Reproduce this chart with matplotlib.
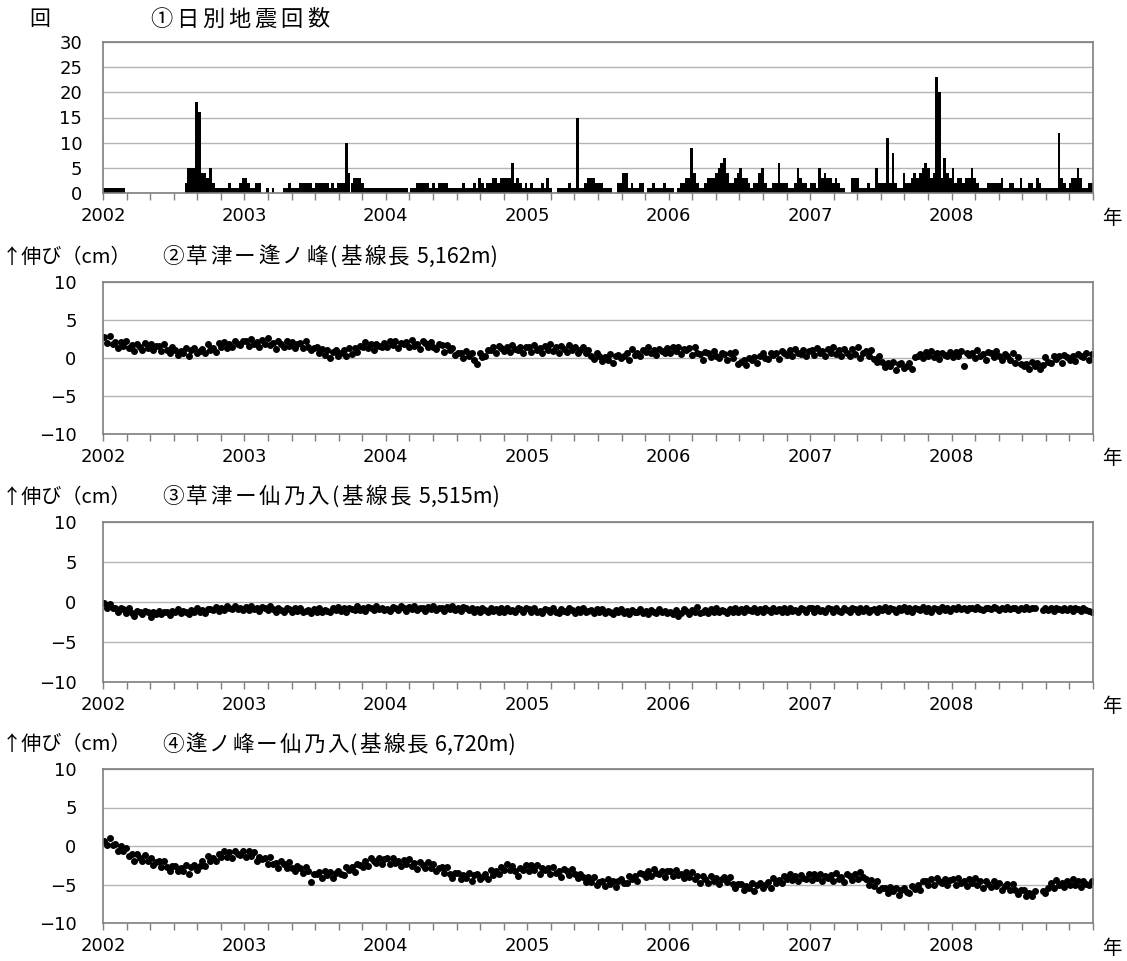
import numpy as np
import matplotlib
matplotlib.use("Agg")
import matplotlib.pyplot as plt

plt.rcParams['font.family'] = ['DejaVu Sans']
JP = ['Noto Sans CJK JP', 'DejaVu Sans']

years = [2002, 2003, 2004, 2005, 2006, 2007, 2008]
year_labels = ['2002', '2003', '2004', '2005', '2006', '2007', '2008']
count_ticks = [0, 5, 10, 15, 20, 25, 30]
len_ticks = [-10, -5, 0, 5, 10]
len_tick_labels = ['−10', '−5', '0', '5', '10']

# ① weekly (max) daily earthquake counts, 52 bins per year
quake_counts = [
    1,1,1,1,1,1,1,1,0,0, 0,0,0,0,0,0,0,0,0,0, 0,0,0,0,0,0,0,0,0,0, 2,5,5,5,18,16,4,4,3,5, 2,1,1,1,1,1,2,1,1,1, 2,3,  # 2002
    3,2,1,1,2,2,0,0,1,0, 1,0,0,0,1,1,2,1,1,1, 2,2,2,2,2,1,2,2,2,2, 2,1,2,1,2,2,2,10,4,2, 3,3,3,2,1,1,1,1,1,1, 1,1,  # 2003
    1,1,1,1,1,1,1,1,0,1, 1,2,2,2,2,2,1,2,1,2, 2,2,2,1,1,1,1,1,2,1, 1,1,2,1,3,2,1,2,2,3, 3,2,3,3,3,3,6,2,3,2, 1,2,  # 2004
    1,2,1,1,1,2,1,3,1,0, 0,1,1,1,1,2,1,1,15,1, 1,2,3,3,3,2,2,2,1,1, 1,0,0,2,2,4,4,1,2,1, 1,2,2,0,1,1,2,1,1,1, 2,1,  # 2005
    1,1,0,1,2,2,3,3,9,4, 2,1,1,2,3,3,3,4,5,6, 7,4,2,2,3,4,5,3,3,2, 1,2,2,4,5,2,1,1,2,2, 6,2,2,2,1,1,2,5,3,2, 2,1,  # 2006
    2,2,1,5,3,4,3,3,2,3, 2,1,1,0,0,3,3,3,1,1, 1,2,1,1,5,2,2,2,11,2, 8,2,1,1,4,2,2,3,4,3, 4,5,6,5,3,4,23,20,3,7, 4,3,  # 2007
    5,2,3,3,2,3,3,5,3,2, 1,1,1,2,2,2,2,2,3,1, 1,2,2,1,1,3,1,1,2,2, 1,3,2,1,1,1,1,1,1,12, 3,2,1,2,3,3,5,3,1,1, 2,2,  # 2008
]

# ② 草津－逢ノ峰 baseline change (cm), weekly readings
kusatsu_ainomine = [
    2.7,2.0,2.9,1.8,2.1,1.3,2.1,1.6,2.3,1.3, 1.7,0.9,1.9,1.5,1.1,2.0,1.3,1.8,1.0,1.6, 1.6,0.9,1.8,1.1,0.7,1.4,1.1,0.4,0.9,0.6, 1.3,0.2,1.1,1.3,0.6,0.9,1.2,0.7,1.8,1.0, 1.3,0.8,2.0,1.5,2.1,1.3,1.8,1.4,2.2,1.9, 1.7,2.3,
    2.3,1.6,2.5,1.8,2.1,1.5,2.4,1.9,2.6,1.7, 2.0,1.2,2.2,1.8,1.4,2.3,1.6,2.1,1.3,1.9, 2.0,1.3,2.2,1.5,1.1,1.3,1.4,0.7,1.2,0.4, 1.1,0.0,0.8,1.0,0.3,0.6,1.0,0.2,1.3,0.5, 1.3,0.8,1.6,1.5,2.1,1.3,1.8,1.1,1.9,1.6, 1.4,2.0,
    1.5,2.2,1.7,2.3,1.3,2.0,1.8,2.1,1.4,2.4, 1.6,1.9,1.2,2.2,2.0,1.5,2.1,1.5,1.2,1.9, 1.7,0.8,1.7,1.1,1.3,0.4,0.7,0.6,0.0,0.9, 0.3,0.6,-0.2,-0.8,0.7,0.1,0.3,1.1,1.1,1.4, 0.6,1.6,1.3,0.9,1.5,0.8,1.7,1.2,1.0,1.5, 0.7,1.4,
    1.5,0.8,1.7,1.0,1.3,0.7,1.6,1.1,1.8,0.9, 1.4,0.6,1.6,1.2,0.8,1.7,1.0,1.5,0.7,1.1, 1.4,0.7,1.0,0.3,-0.1,0.6,0.3,-0.4,0.1,-0.2, 0.5,-0.6,0.2,0.4,0.0,0.3,0.6,-0.2,1.2,0.4, 0.7,0.2,1.0,0.8,1.4,0.6,1.1,0.4,1.2,0.9, 0.7,1.3,
    0.7,1.4,0.9,1.5,0.5,1.2,1.0,1.3,0.4,1.4, 0.6,0.5,-0.2,0.8,0.6,0.1,0.9,0.3,0.0,0.7, 0.5,-0.3,0.6,0.0,0.8,-0.8,-0.5,-0.3,-0.9,0.0, -0.3,0.1,-0.7,0.3,0.6,0.0,-0.1,0.7,0.4,0.7, -0.1,0.9,0.6,0.4,1.0,0.3,1.2,0.7,0.5,1.0, 0.2,0.9,
    1.1,0.4,1.3,0.6,0.9,0.3,1.2,0.7,1.4,0.5, 1.0,0.2,1.2,0.7,0.3,1.2,0.5,1.4,0.0,0.6, 0.9,0.2,1.1,-0.1,-0.5,0.2,-0.5,-1.2,-0.7,-1.0, -0.5,-1.6,-0.8,-0.6,-1.3,-1.0,-0.7,-1.5,0.1,0.2, 0.5,0.0,0.8,0.3,0.9,0.1,0.6,-0.1,0.7,0.4, 0.2,0.8,
    0.1,0.8,0.3,0.9,-1.0,0.6,0.4,0.7,0.0,1.0, 0.2,0.5,-0.2,0.8,0.6,0.1,0.9,0.3,-0.2,0.5, 0.3,-0.3,0.6,-0.7,0.1,-0.8,-1.0,-0.8,-1.4,-0.5, -1.1,-0.7,-1.5,-0.9,0.1,-0.5,-0.6,0.2,-0.1,0.2, -0.6,0.4,0.1,-0.3,0.3,-0.4,0.5,0.3,0.1,0.6, -0.2,0.5,
]

# ③ 草津－仙乃入 baseline change (cm), weekly readings (nan = no data)
kusatsu_sennoiri = [
    -0.1,-0.7,-0.3,-0.8,-0.8,-1.2,-0.8,-0.9,-1.4,-0.7, -1.4,-1.8,-1.1,-1.3,-1.5,-1.1,-1.3,-1.9,-1.2,-1.5, -1.1,-1.5,-1.3,-1.2,-1.6,-1.1,-1.3,-0.9,-1.4,-1.1, -1.2,-1.5,-1.0,-1.2,-0.8,-1.3,-1.0,-1.4,-0.9,-0.9, -1.0,-0.6,-1.1,-0.8,-1.0,-0.5,-0.7,-0.9,-0.5,-0.9, -0.7,-1.0,
    -0.6,-1.0,-0.5,-0.9,-0.8,-1.1,-0.6,-0.7,-1.0,-0.5, -0.9,-1.3,-0.8,-1.0,-1.2,-0.7,-0.9,-1.3,-0.8,-1.1, -0.7,-1.3,-1.1,-1.0,-1.4,-0.9,-1.2,-0.8,-1.3,-1.0, -1.1,-1.2,-0.7,-1.0,-0.6,-1.1,-0.8,-1.2,-0.7,-0.9, -1.0,-0.5,-1.0,-0.7,-1.1,-0.6,-0.8,-1.0,-0.5,-0.9, -0.7,-1.0,
    -0.9,-1.1,-0.6,-0.8,-1.0,-0.5,-0.7,-1.1,-0.6,-0.9, -0.5,-1.0,-0.8,-0.7,-1.1,-0.6,-0.9,-0.5,-1.0,-0.7, -0.8,-1.1,-0.6,-0.9,-0.5,-1.0,-0.7,-1.1,-0.6,-0.8, -1.0,-0.7,-1.2,-0.9,-1.3,-0.8,-1.0,-1.2,-0.7,-1.1, -0.9,-1.2,-0.8,-1.2,-0.7,-1.1,-1.0,-1.3,-0.8,-0.9, -1.2,-0.7,
    -0.9,-1.3,-0.8,-1.2,-1.1,-1.4,-0.9,-1.0,-1.3,-0.8, -1.2,-1.4,-0.9,-1.1,-1.3,-0.8,-1.0,-1.4,-0.9,-1.2, -0.8,-1.3,-1.1,-1.0,-1.4,-0.9,-1.3,-0.9,-1.4,-1.1, -1.2,-1.5,-1.0,-1.3,-0.9,-1.4,-1.1,-1.5,-1.0,-1.2, -1.3,-0.9,-1.4,-1.1,-1.5,-1.0,-1.2,-1.4,-0.9,-1.3, -1.1,-1.4,
    -1.3,-1.5,-1.0,-1.8,-1.4,-0.9,-1.1,-1.5,-1.0,-1.3, -0.6,-1.4,-1.2,-1.0,-1.4,-0.9,-1.2,-0.8,-1.3,-1.0, -1.1,-1.4,-0.9,-1.2,-0.8,-1.3,-0.9,-1.3,-0.8,-1.0, -1.1,-0.7,-1.2,-0.9,-1.3,-0.8,-1.0,-1.2,-0.7,-1.1, -0.9,-1.2,-0.8,-1.2,-0.7,-1.1,-1.0,-1.3,-0.8,-0.9, -1.2,-0.7,
    -0.8,-1.2,-0.7,-1.1,-1.0,-1.3,-0.8,-0.9,-1.2,-0.7, -1.1,-1.3,-0.8,-1.0,-1.2,-0.7,-0.9,-1.3,-0.8,-1.1, -0.7,-1.2,-1.0,-0.9,-1.3,-0.8,-1.0,-0.6,-1.1,-0.8, -0.9,-1.2,-0.7,-1.0,-0.6,-1.1,-0.8,-1.2,-0.7,-0.9, -1.0,-0.6,-1.1,-0.8,-1.2,-0.7,-0.9,-1.1,-0.6,-1.0, -0.8,-1.1,
    -0.7,-0.9,-0.6,-0.9,-0.8,-1.0,-0.7,-0.7,-0.9,-0.6, -0.9,-1.0,-0.7,-0.8,-0.9,-0.6,-0.7,-1.0,-0.7,-0.9, -0.6,-0.9,-0.8,-0.7,-1.0,-0.7,-0.9,-0.6,-0.9,-0.7, -0.8,np.nan,np.nan,-1.0,-0.7,-1.0,-0.8,-1.1,-0.8,-0.9, -1.0,-0.7,-1.0,-0.8,-1.1,-0.8,-0.9,-1.1,-0.8,-1.0, -1.1,-1.3,
]

# ④ 逢ノ峰－仙乃入 baseline change (cm), weekly readings (nan = no data)
ainomine_sennoiri = [
    0.7,0.1,1.0,0.1,0.2,-0.7,0.0,-0.7,-0.2,-1.3, -1.0,-1.9,-1.0,-1.5,-2.0,-1.2,-2.0,-1.6,-2.5,-2.1, -1.9,-2.7,-1.9,-2.7,-3.2,-2.6,-2.6,-3.3,-2.9,-3.2, -2.5,-3.6,-2.7,-2.5,-3.1,-2.6,-2.0,-2.6,-1.3,-2.0, -1.6,-2.0,-1.1,-1.4,-0.7,-1.4,-0.8,-1.5,-0.7,-1.0, -1.2,-0.7,
    -1.4,-0.7,-1.3,-0.8,-2.0,-1.4,-1.7,-1.5,-2.3,-1.4, -2.4,-2.2,-2.9,-2.0,-2.3,-2.8,-2.1,-2.8,-3.2,-2.6, -2.8,-3.5,-2.7,-3.3,-4.7,-3.7,-3.6,-3.4,-4.1,-3.2, -3.8,-3.4,-4.2,-3.5,-3.2,-3.7,-3.8,-2.7,-3.1,-2.7, -3.4,-2.3,-2.5,-2.7,-2.0,-2.6,-1.6,-2.0,-2.2,-1.6, -2.4,-1.7,
    -1.6,-2.3,-1.5,-2.2,-2.0,-2.6,-1.8,-2.3,-1.7,-2.6, -2.2,-3.0,-2.1,-2.5,-2.9,-2.1,-2.8,-2.4,-3.3,-2.9, -2.7,-3.5,-2.7,-3.6,-4.1,-3.5,-3.5,-4.3,-3.8,-4.2, -3.5,-4.6,-3.8,-3.6,-4.3,-4.0,-3.7,-4.3,-3.1,-3.8, -3.3,-3.6,-2.7,-3.1,-2.4,-3.1,-2.6,-3.3,-3.9,-2.9, -3.1,-2.5,
    -3.2,-2.5,-3.1,-2.5,-3.6,-2.9,-3.1,-2.9,-3.6,-2.7, -3.5,-3.2,-4.0,-3.0,-3.2,-3.8,-3.0,-3.7,-4.2,-3.6, -4.0,-4.7,-4.0,-4.7,-4.0,-5.0,-4.7,-4.6,-5.2,-4.3, -4.9,-4.5,-5.3,-4.6,-4.3,-4.8,-4.8,-3.9,-4.3,-3.9, -4.6,-3.5,-3.7,-4.0,-3.3,-3.9,-3.0,-3.5,-3.7,-3.2, -4.0,-3.3,
    -3.2,-3.9,-3.1,-3.8,-3.6,-4.2,-3.4,-4.0,-3.4,-4.3, -3.9,-4.8,-3.9,-4.3,-4.8,-3.9,-4.6,-4.1,-4.9,-4.3, -4.0,-4.7,-4.0,-4.9,-5.5,-4.9,-4.9,-5.7,-5.2,-5.5, -4.8,-5.9,-5.0,-4.8,-5.4,-5.1,-4.7,-5.4,-4.2,-4.8, -4.4,-4.8,-3.9,-4.3,-3.7,-4.4,-3.9,-4.6,-3.8,-4.1, -4.3,-3.7,
    -4.4,-3.7,-4.2,-3.6,-4.6,-3.9,-4.1,-3.8,-4.5,-3.5, -4.3,-4.0,-4.7,-3.7,-3.9,-4.4,-3.6,-4.3,-3.4,-4.0, -4.3,-5.1,-4.4,-5.2,-4.6,-5.7,-5.5,-5.4,-6.1,-5.3, -5.9,-5.5,-6.3,-5.7,-5.4,-6.0,-6.1,-5.2,-5.6,-5.1, -5.7,-4.5,-4.6,-5.0,-4.3,-5.0,-4.1,-4.6,-4.8,-4.3, -5.1,-4.4,
    -4.3,-5.0,-4.1,-4.8,-4.6,-5.2,-4.3,-4.8,-4.2,-5.1, -4.6,-5.4,-4.5,-4.9,-5.3,-4.5,-5.2,-4.8,-5.7,-5.2, -4.9,-5.7,-4.9,-5.7,-6.2,-5.7,-5.7,-6.5,-6.1,-6.5, -5.9,np.nan,np.nan,-5.8,-6.1,-5.4,-4.8,-5.5,-4.4,-5.1, -4.8,-5.3,-4.5,-5.0,-4.3,-5.1,-4.6,-5.3,-4.5,-4.9, -5.1,-4.6,
]

titles = ['①日別地震回数',
          '②草津ー逢ノ峰(基線長 5,162m)',
          '③草津ー仙乃入(基線長 5,515m)',
          '④逢ノ峰ー仙乃入(基線長 6,720m)']
unit_count = '回'
unit_len = '↑伸び（cm）'
year_suffix = '年'

W, H = 1127, 961
fig = plt.figure(figsize=(W / 100, H / 100), dpi=100)
renderer = fig.canvas.get_renderer()


def px_axes(left, top, right, bottom):
    return fig.add_axes([left / W, 1 - bottom / H, (right - left) / W, (bottom - top) / H])


def ptext(x, y, s, **kw):
    return fig.text(x / W, 1 - y / H, s, **kw)


def chunks(s):
    out, buf = [], ''
    for ch in s:
        if ord(ch) > 0x2000:
            if buf:
                out.append(buf)
                buf = ''
            out.append(ch)
        else:
            buf += ch
    if buf:
        out.append(buf)
    return out


def tracked_text(x0, x1, y, s, size):
    """Place text so it spans x0..x1 pixels, spreading the extra room between glyphs."""
    parts = chunks(s)
    objs, widths = [], []
    for p in parts:
        t = ptext(0, y, p, family=JP, fontsize=size, va='center', ha='left')
        objs.append(t)
        widths.append(t.get_window_extent(renderer).width)
    gap = (x1 - x0 - sum(widths)) / max(len(parts) - 1, 1)
    x = x0
    for t, w in zip(objs, widths):
        t.set_x(x / W)
        x += w + gap


x_week = np.concatenate([yr + (np.arange(52) + 0.5) / 52 for yr in years])
xticks = 2002 + np.arange(43) / 6.0
tick_labels = []
for k in range(43):
    if k % 6 == 0 and k // 6 < len(year_labels):
        tick_labels.append(year_labels[k // 6])
    else:
        tick_labels.append('')

GRID = '#b4b4b4'
SPINE = '#7f7f7f'


def style(ax, ylim, yticks, ylabels, ypad):
    ax.set_xlim(2002, 2009)
    ax.set_ylim(*ylim)
    ax.set_yticks(yticks)
    ax.set_yticklabels(ylabels)
    ax.set_xticks(xticks)
    ax.set_xticklabels(tick_labels)
    ax.yaxis.grid(True, color=GRID, lw=1.0)
    ax.set_axisbelow(True)
    for s in ax.spines.values():
        s.set_color(SPINE)
        s.set_linewidth(1.2)
    ax.tick_params(axis='x', direction='out', length=5, width=1, color=SPINE,
                   labelsize=13, pad=5)
    ax.tick_params(axis='y', length=0, labelsize=13, pad=ypad)


# panel boxes in pixels (left, top, right, bottom)
boxes = [(103, 42, 1093, 193), (103, 282, 1093, 434), (103, 522, 1093, 682), (103, 769, 1093, 923)]

ax1 = px_axes(*boxes[0])
ax1.bar(x_week, quake_counts, width=1 / 52, color='black', linewidth=0, align='center')
style(ax1, (0, 30), count_ticks, [str(v) for v in count_ticks], 15)

series = [kusatsu_ainomine, kusatsu_sennoiri, ainomine_sennoiri]
for i, data in enumerate(series):
    ax = px_axes(*boxes[i + 1])
    ax.plot(x_week, data, linestyle='none', marker='o', ms=4.0, color='black', mec='black')
    style(ax, (-10, 10), len_ticks, len_tick_labels, 19)

# titles
tracked_text(29, 49, 19, unit_count, 15)
tracked_text(150, 329, 19, titles[0], 16)
for i, ty in enumerate([257, 497, 745]):
    ptext(2, ty, unit_len, family=JP, fontsize=14.5, va='center', ha='left')
    tracked_text(162, [498, 500, 516][i], ty, titles[i + 1], 15.5)

# 年 suffix at the right end of each x axis
for b in boxes:
    ptext(1112, b[3] + 25, year_suffix, family=JP, fontsize=14, va='center', ha='center')

fig.savefig('out.png', dpi=100)
